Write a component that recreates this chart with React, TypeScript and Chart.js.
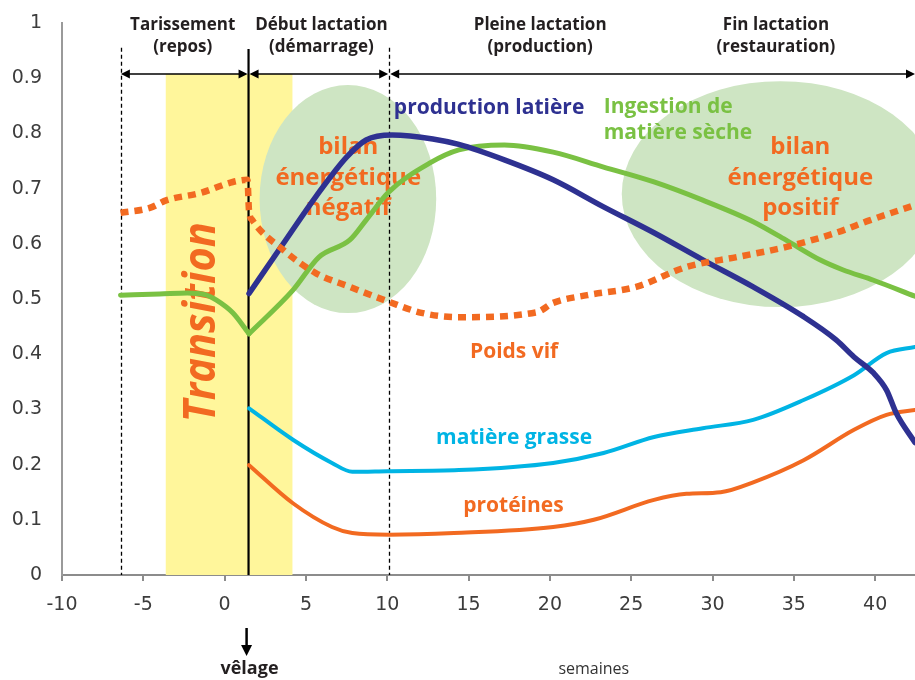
import React, { useEffect, useRef } from "react";
import { Chart, registerables } from "chart.js";

Chart.register(...registerables);

// ---------- data (weeks relative to calving, relative level 0..1) ----------
const xTicks = [-10, -5, 0, 5, 10, 15, 20, 25, 30, 35, 40];
const yTicks = [0, 0.1, 0.2, 0.3, 0.4, 0.5, 0.6, 0.7, 0.8, 0.9, 1];

// dry-matter intake: dry period (up to calving) and lactation (from calving)
const ingestionDryWeeks = [-6.4, -4, -2.3, -1.2, -0.5, 0.5, 1.5];
const ingestionDryValues = [0.507, 0.509, 0.511, 0.508, 0.498, 0.475, 0.437];
const ingestionWeeks = [1.5, 4.2, 5.8, 7.7, 8.7, 10.1, 12.6, 14.4, 17.2, 20.2, 23.3, 26.4, 29.4, 32.5, 34.5, 36.6, 38.0, 39.9, 42.45];
const ingestionValues = [0.437, 0.516, 0.576, 0.607, 0.643, 0.694, 0.746, 0.77, 0.779, 0.766, 0.739, 0.712, 0.679, 0.64, 0.607, 0.571, 0.553, 0.534, 0.505];

const milkWeeks = [1.5, 3.6, 5.6, 7.5, 8.7, 10.3, 12.8, 14.4, 17.2, 20.2, 23.3, 26.4, 29.4, 32.5, 35.6, 37.6, 38.7, 39.9, 40.7, 41.3, 42.45];
const milkValues = [0.51, 0.6, 0.685, 0.757, 0.788, 0.797, 0.79, 0.78, 0.752, 0.716, 0.667, 0.62, 0.571, 0.522, 0.468, 0.426, 0.395, 0.366, 0.335, 0.293, 0.24];

const fatWeeks = [1.5, 4.2, 6.6, 7.85, 10, 14.4, 20.2, 23.3, 26.4, 29.4, 32.5, 35.6, 38.7, 40.7, 42.45];
const fatValues = [0.302, 0.245, 0.203, 0.187, 0.188, 0.19, 0.203, 0.221, 0.25, 0.266, 0.281, 0.317, 0.362, 0.402, 0.413];

const proteinWeeks = [1.5, 4.2, 6.6, 7.85, 10.1, 14.1, 20.2, 22.7, 26.4, 28.4, 30.5, 32.5, 35.6, 38.7, 40.7, 42.45];
const proteinValues = [0.199, 0.13, 0.087, 0.076, 0.073, 0.076, 0.087, 0.1, 0.136, 0.147, 0.15, 0.168, 0.208, 0.263, 0.29, 0.299];

const weightWeeks = [-6.4, -4.6, -3.56, -1.5, 0.5, 1.4, 1.5, 1.7, 3.6, 5.6, 7.7, 10.1, 12.1, 14.4, 19.2, 20.2, 22.3, 25.3, 28.4, 31.5, 34.5, 37.6, 39.7, 42.45];
const weightValues = [0.656, 0.665, 0.679, 0.692, 0.712, 0.716, 0.66, 0.643, 0.589, 0.547, 0.522, 0.495, 0.475, 0.467, 0.476, 0.493, 0.507, 0.522, 0.558, 0.576, 0.594, 0.62, 0.643, 0.67];

// phase boundaries (weeks)
const dryStart = -6.38;
const calving = 1.47;
const peakStart = 10.12;
const transitionFrom = -3.62;
const transitionTo = 4.17;

const phaseTitles = [
  { x: -2.58, lines: ["Tarissement", "(repos)"] },
  { x: 5.95, lines: ["Début lactation", "(démarrage)"] },
  { x: 19.4, lines: ["Pleine lactation", "(production)"] },
  { x: 33.9, lines: ["Fin lactation", "(restauration)"] },
];

// ---------- style ----------
const ORANGE = "#F26A21";
const NAVY = "#2E3191";
const GREEN = "#7AC143";
const CYAN = "#00B4E4";
const YELLOW = "#FFF69B";
const ELLIPSE = "#CEE5C3";
const DARK = "#231F20";
const AXIS = "#8c8c8c";
const FONT = '"Open Sans", "DejaVu Sans", sans-serif';
const TICK_FONT = '"DejaVu Sans", sans-serif';

const zip = (xs: number[], ys: number[]) => xs.map((x, i) => ({ x, y: ys[i] }));

function arrow(ctx: CanvasRenderingContext2D, x1: number, x2: number, y: number) {
  const hl = 9, hw = 4.5;
  ctx.beginPath();
  ctx.moveTo(x1 + 2, y);
  ctx.lineTo(x2 - 2, y);
  ctx.stroke();
  ctx.beginPath();
  ctx.moveTo(x1, y);
  ctx.lineTo(x1 + hl, y - hw);
  ctx.lineTo(x1 + hl, y + hw);
  ctx.closePath();
  ctx.fill();
  ctx.beginPath();
  ctx.moveTo(x2, y);
  ctx.lineTo(x2 - hl, y - hw);
  ctx.lineTo(x2 - hl, y + hw);
  ctx.closePath();
  ctx.fill();
}

const decorPlugin = {
  id: "decor",
  beforeDatasetsDraw(chart: any) {
    const { ctx, scales } = chart;
    const X = (v: number) => scales.x.getPixelForValue(v);
    const Y = (v: number) => scales.y.getPixelForValue(v);
    const y0 = Y(0);
    ctx.save();

    // transition band
    ctx.fillStyle = YELLOW;
    const bandTop = Y(0.9076);
    ctx.fillRect(X(transitionFrom), bandTop, X(transitionTo) - X(transitionFrom), y0 - bandTop);

    // energy balance ellipses
    ctx.fillStyle = ELLIPSE;
    const ellipses = [
      { cx: 7.58, cy: 0.681, rx: 5.43, ry: 0.2065 },
      { cx: 34.17, cy: 0.69, rx: 9.75, ry: 0.2047 },
    ];
    for (const e of ellipses) {
      ctx.beginPath();
      ctx.ellipse(X(e.cx), Y(e.cy), Math.abs(X(e.cx + e.rx) - X(e.cx)), Math.abs(Y(e.cy) - Y(e.cy + e.ry)), 0, 0, Math.PI * 2);
      ctx.fill();
    }

    // dashed phase lines
    ctx.strokeStyle = "#000";
    ctx.lineWidth = 1.3;
    ctx.setLineDash([4, 3]);
    for (const v of [dryStart, peakStart]) {
      ctx.beginPath();
      ctx.moveTo(Math.round(X(v)) + 0.5, Y(0.955));
      ctx.lineTo(Math.round(X(v)) + 0.5, y0);
      ctx.stroke();
    }
    ctx.setLineDash([]);
    // calving line
    ctx.lineWidth = 2.2;
    ctx.beginPath();
    ctx.moveTo(X(calving), Y(0.953));
    ctx.lineTo(X(calving), y0);
    ctx.stroke();

    // phase arrows
    ctx.fillStyle = "#000";
    ctx.lineWidth = 1.5;
    const ay = Y(0.9076);
    arrow(ctx, X(dryStart), X(calving) - 1, ay);
    arrow(ctx, X(calving) + 1, X(peakStart) - 1, ay);
    arrow(ctx, X(peakStart) + 1, scales.x.right, ay);

    // phase titles
    ctx.fillStyle = DARK;
    ctx.font = `bold 17px ${FONT}`;
    ctx.textAlign = "center";
    ctx.textBaseline = "middle";
    for (const p of phaseTitles) {
      ctx.fillText(p.lines[0], X(p.x), 25);
      ctx.fillText(p.lines[1], X(p.x), 47);
    }

    // Transition (vertical)
    ctx.save();
    ctx.translate(X(-0.6), Y(0.458));
    ctx.rotate(-Math.PI / 2);
    ctx.fillStyle = ORANGE;
    ctx.font = `italic bold 45px ${FONT}`;
    ctx.textAlign = "center";
    ctx.textBaseline = "alphabetic";
    const tw = ctx.measureText("Transition").width;
    ctx.scale(200 / tw, 1);
    ctx.fillText("Transition", 0, 0);
    ctx.restore();

    // energy balance labels
    ctx.font = `bold 24px ${FONT}`;
    ctx.fillStyle = ORANGE;
    const neg = ["bilan", "énergétique", "négatif"];
    const pos = ["bilan", "énergétique", "positif"];
    const ly = [0.775, 0.719, 0.665];
    neg.forEach((t, i) => ctx.fillText(t, X(7.6), Y(ly[i])));
    pos.forEach((t, i) => ctx.fillText(t, X(35.4), Y(ly[i])));

    // series labels
    ctx.font = `bold 21px ${FONT}`;
    ctx.fillStyle = NAVY;
    ctx.fillText("production latière", X(16.26), Y(0.846));
    ctx.fillStyle = GREEN;
    ctx.textAlign = "left";
    ctx.fillText("Ingestion de", X(23.31), Y(0.848));
    ctx.fillText("matière sèche", X(23.31), Y(0.8));
    ctx.textAlign = "center";
    ctx.fillStyle = ORANGE;
    ctx.fillText("Poids vif", X(17.8), Y(0.404));
    ctx.fillStyle = CYAN;
    ctx.fillText("matière grasse", X(17.8), Y(0.248));
    ctx.fillStyle = ORANGE;
    ctx.fillText("protéines", X(17.76), Y(0.125));

    // below the axis: calving marker and axis title
    ctx.fillStyle = "#000";
    ctx.strokeStyle = "#000";
    ctx.lineWidth = 2.5;
    const vx = X(1.35);
    ctx.beginPath();
    ctx.moveTo(vx, 628);
    ctx.lineTo(vx, 647);
    ctx.stroke();
    ctx.beginPath();
    ctx.moveTo(vx - 5.5, 645);
    ctx.lineTo(vx + 5.5, 645);
    ctx.lineTo(vx, 656);
    ctx.closePath();
    ctx.fill();
    ctx.fillStyle = DARK;
    ctx.font = `bold 18px ${FONT}`;
    ctx.fillText("vêlage", X(1.53), 669);
    ctx.fillStyle = "#333";
    ctx.font = `16px ${FONT}`;
    ctx.fillText("semaines", X(22.7), 669);

    ctx.restore();
  },
};

export default function App() {
  const ref = useRef<HTMLCanvasElement>(null);
  useEffect(() => {
    if (!ref.current) return;
    const line = (data: any, color: string, width: number, order: number, extra: any = {}) => ({
      data,
      borderColor: color,
      borderWidth: width,
      pointRadius: 0,
      fill: false,
      cubicInterpolationMode: "monotone",
      borderCapStyle: "round",
      order,
      ...extra,
    });
    const chart = new Chart(ref.current, {
      type: "line",
      data: {
        datasets: [
          line(zip(weightWeeks, weightValues), ORANGE, 6.5, 0, { borderDash: [8, 6], borderCapStyle: "butt" }),
          line(zip(milkWeeks, milkValues), NAVY, 5.5, 1),
          line(zip(proteinWeeks, proteinValues), ORANGE, 4, 2),
          line(zip(fatWeeks, fatValues), CYAN, 4, 3),
          line(zip(ingestionWeeks, ingestionValues), GREEN, 5, 4),
          line(zip(ingestionDryWeeks, ingestionDryValues), GREEN, 5, 4),
        ] as any,
      },
      options: {
        animation: false,
        responsive: false,
        devicePixelRatio: 1,
        layout: { autoPadding: false, padding: { top: 23, right: 0, left: 0, bottom: 0 } },
        plugins: { legend: { display: false }, tooltip: { enabled: false } },
        events: [],
        scales: {
          x: {
            type: "linear",
            min: -10,
            max: 42.45,
            afterFit: (s: any) => { s.height = 105; s.paddingLeft = 0; s.paddingRight = 0; },
            afterBuildTicks: (s: any) => { s.ticks = xTicks.map((v) => ({ value: v })); },
            ticks: {
              includeBounds: false,
              autoSkip: false,
              maxRotation: 0,
              padding: 13,
              color: "#3c3c3c",
              font: { family: TICK_FONT, size: 19 },
              callback: (v: any) => String(v),
            },
            grid: { display: true, drawOnChartArea: false, drawTicks: true, tickLength: 6, color: AXIS, lineWidth: 2 },
            border: { display: true, color: AXIS, width: 2 },
          },
          y: {
            type: "linear",
            min: 0,
            max: 1,
            afterFit: (s: any) => { s.width = 62; s.paddingTop = 0; s.paddingBottom = 0; },
            afterBuildTicks: (s: any) => { s.ticks = yTicks.map((v) => ({ value: v })); },
            ticks: {
              padding: 20,
              color: "#3c3c3c",
              font: { family: TICK_FONT, size: 19 },
              callback: (v: any) => String(Math.round(v * 10) / 10),
            },
            grid: { display: false, drawTicks: false },
            border: { display: true, color: "#9a9a9a", width: 2 },
          },
        },
      } as any,
      plugins: [decorPlugin],
    });
    return () => chart.destroy();
  }, []);
  return (
    <div style={{ position: "absolute", left: 0, top: 0, width: 915, height: 680, background: "#fff" }}>
      <canvas ref={ref} width={915} height={680} style={{ display: "block" }} />
    </div>
  );
}
